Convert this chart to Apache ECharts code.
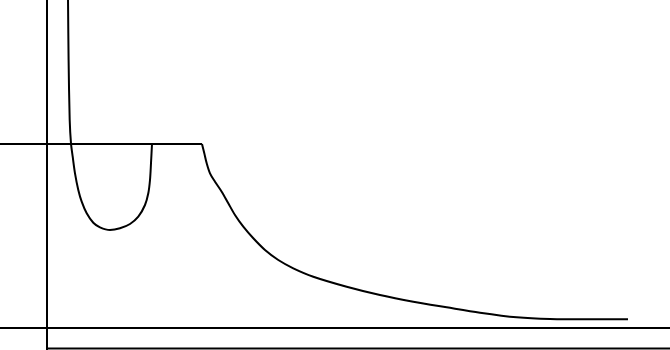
<!DOCTYPE html>
<html>
<head>
<meta charset="utf-8">
<script src="https://cdn.jsdelivr.net/npm/echarts@6/dist/echarts.min.js"></script>
<style>html,body{margin:0;padding:0;background:#fff;}#c{width:670px;height:350px;}</style>
</head>
<body>
<div id="c"></div>
<script>
// Left branch: steep descent, well, and rise back to the plateau level
const wellX = [0.21, 0.216, 0.227, 0.24, 0.257, 0.28, 0.313, 0.347, 0.397, 0.463, 0.53, 0.63, 0.73, 0.83, 0.913, 0.98, 1.013, 1.03, 1.04, 1.05];
const wellY = [3.30, 2.675, 2.075, 1.842, 1.708, 1.542, 1.375, 1.258, 1.142, 1.048, 1.002, 0.975, 0.992, 1.035, 1.108, 1.225, 1.342, 1.475, 1.642, 1.835];
// Plateau / horizontal level line
const levelX = [-0.5, 1.55];
const levelY = [1.835, 1.835];
// Right branch: decay tail
const tailX = [1.55, 1.573, 1.597, 1.63, 1.68, 1.747, 1.813, 1.88, 1.963, 2.063, 2.18, 2.313, 2.463, 2.663, 2.997, 3.33, 3.663, 3.997, 4.33, 4.697, 5.03, 5.43, 5.81];
const tailY = [1.835, 1.742, 1.642, 1.542, 1.458, 1.358, 1.242, 1.125, 1.008, 0.892, 0.775, 0.675, 0.592, 0.508, 0.408, 0.325, 0.258, 0.202, 0.148, 0.102, 0.085, 0.082, 0.082];
// Lower baseline
const baseX = [0, 6.3];
const baseY = [-0.21, -0.21];

const zip = (xs, ys) => xs.map((x, i) => [x, ys[i]]);
const lineStyle = { color: '#000', width: 2 };

const chart = echarts.init(document.getElementById('c'));
chart.setOption({
  animation: false,
  backgroundColor: '#fff',
  grid: { left: 0, right: 0, top: 0, bottom: 0 },
  xAxis: {
    type: 'value', min: -0.47, max: 6.23,
    axisLine: { show: true, onZero: true, lineStyle: { color: '#000', width: 2 } },
    axisTick: { show: false }, axisLabel: { show: false }, splitLine: { show: false }
  },
  yAxis: {
    type: 'value', min: -0.225, max: 3.275,
    axisLine: { show: true, onZero: true, lineStyle: { color: '#000', width: 2 } },
    axisTick: { show: false }, axisLabel: { show: false }, splitLine: { show: false }
  },
  series: [
    { type: 'line', data: zip(wellX, wellY), smooth: 0.3, showSymbol: false, lineStyle, clip: true },
    { type: 'line', data: zip(levelX, levelY), showSymbol: false, lineStyle, clip: true },
    { type: 'line', data: zip(tailX, tailY), smooth: 0.3, showSymbol: false, lineStyle, clip: true },
    { type: 'line', data: zip(baseX, baseY), showSymbol: false, lineStyle, clip: true }
  ]
});
</script>
</body>
</html>
